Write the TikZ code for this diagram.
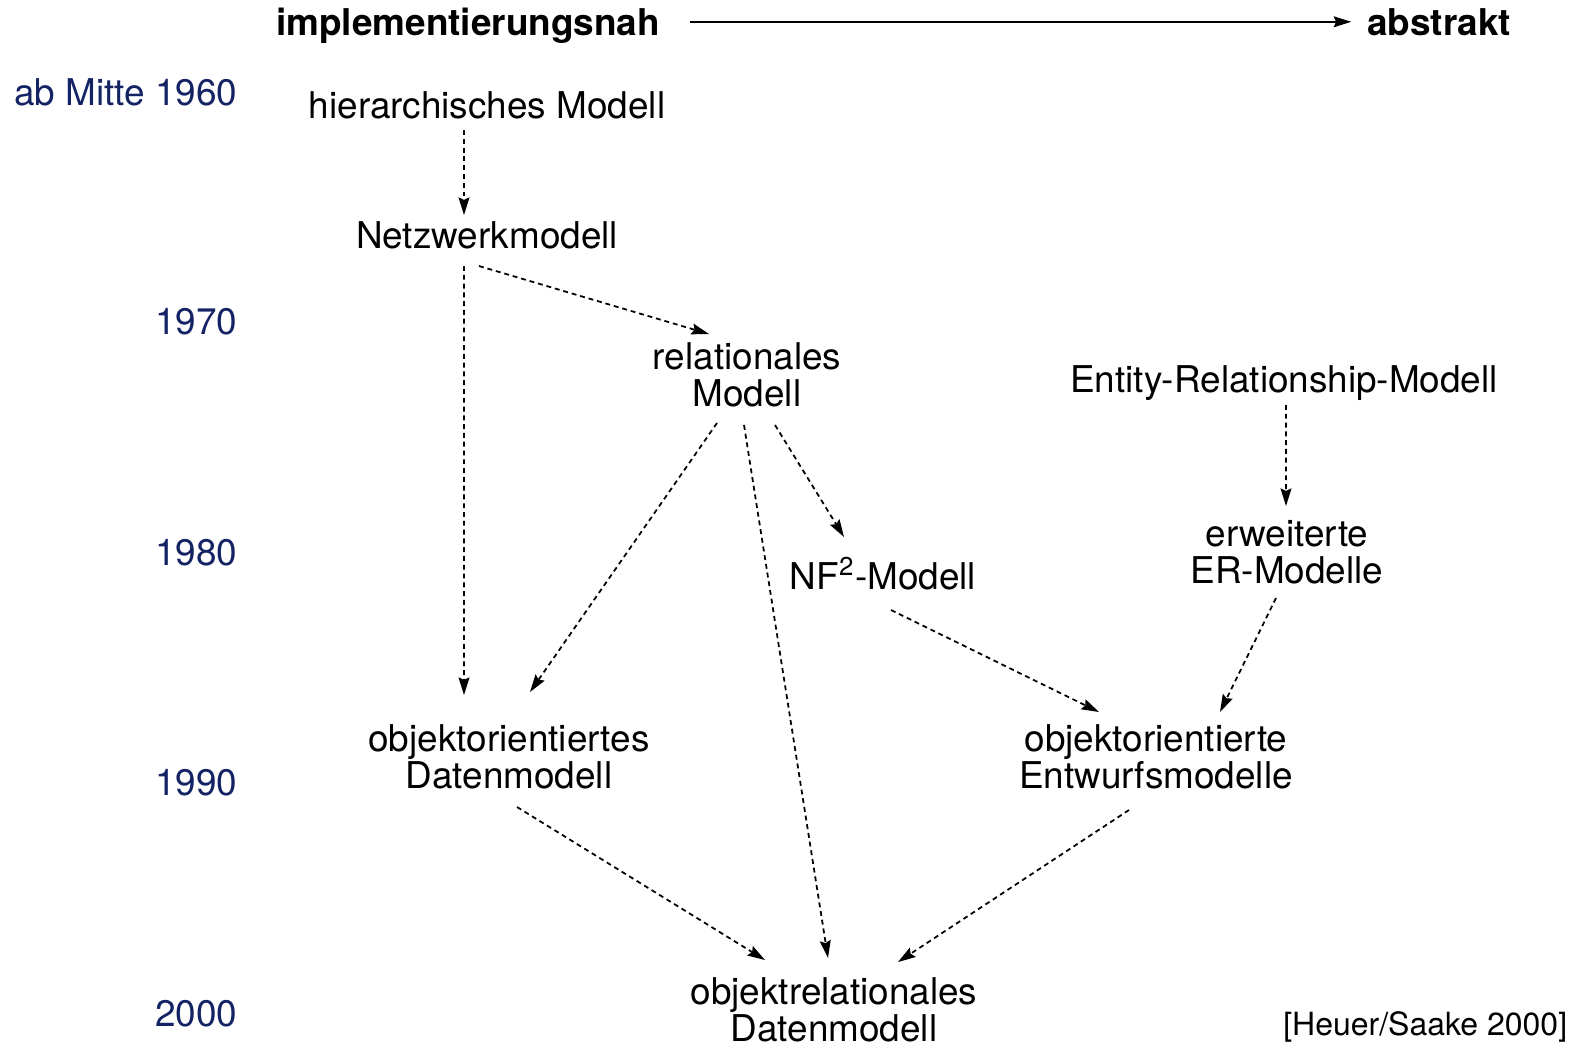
\documentclass[tikz,border=0pt]{standalone}
\usepackage{fontspec}
\setmainfont{TeX Gyre Heros}
\usetikzlibrary{arrows.meta}
\definecolor{yearblue}{RGB}{20,35,100}

\begin{document}
\begin{tikzpicture}[line width=0.5pt, font=\fontsize{10.5}{10.4}\selectfont,
  every node/.style={inner sep=0pt, align=center},
  year/.style={anchor=east, text=yearblue},
  axislabel/.style={anchor=base, font=\fontsize{10.5}{10.4}\selectfont\bfseries},
  tip/.style={-{Stealth[length=5pt, width=3.1pt, inset=0.7pt]}},
  link/.style={tip, dash pattern=on 1.4pt off 1.1pt}]
\useasboundingbox (0,0) rectangle (15.88,-10.44);

\node [axislabel] (impl) at (4.68,-0.355) {implementierungsnah};
\node [axislabel] (abst) at (14.39,-0.355) {abstrakt};
\coordinate (axstart) at ([shift={(0.29,0.04)}]impl.east);
\draw [tip] (axstart) -- ([xshift=-0.15cm]abst.west |- axstart);

\node [year] (y60) at (2.38,-0.92) {ab Mitte 1960};
\node [year] (y70) at (2.38,-3.22) {1970};
\node [year] (y80) at (2.38,-5.53) {1980};
\node [year] (y90) at (2.38,-7.83) {1990};
\node [year] (y00) at (2.38,-10.14) {2000};

\node (hier) at (4.87,-1.05) {hierarchisches Modell};
\node (netz) at (4.87,-2.35) {Netzwerkmodell};
\node (rel) at (7.47,-3.75) {relationales\\Modell};
\node (er) at (12.84,-3.83) {Entity-Relationship-Modell};
\node (nf) at (8.83,-5.74) {NF\textsuperscript{2}-Modell};
\node (erw) at (12.87,-5.52) {erweiterte\\ER-Modelle};
\node (oo) at (5.09,-7.57) {objektorientiertes\\Datenmodell};
\node (oe) at (11.56,-7.57) {objektorientierte\\Entwurfsmodelle};
\node (ors) at (8.34,-10.10) {objektrelationales\\Datenmodell};
\node [anchor=east, font=\fontsize{9.1}{10}\selectfont] (cite) at (15.68,-10.27) {[Heuer/Saake 2000]};

\draw [link] ([shift={(-0.23,-0.25)}]hier.center) -- ([shift={(-0.23,0.20)}]netz.center);
\draw [link] ([shift={(-0.23,-0.31)}]netz.center) -- ([shift={(-0.45,0.62)}]oo.center);
\draw [link] ([shift={(-0.08,-0.31)}]netz.center) -- ([shift={(-0.38,0.41)}]rel.center);
\draw [link] ([shift={(-0.30,-0.48)}]rel.center) -- ([shift={(0.21,0.65)}]oo.center);
\draw [link] ([shift={(-0.03,-0.50)}]rel.center) -- ([shift={(-0.06,0.52)}]ors.center);
\draw [link] ([shift={(0.28,-0.50)}]rel.center) -- ([shift={(-0.39,0.37)}]nf.center);
\draw [link] ([shift={(0.02,-0.22)}]er.center) -- ([shift={(-0.01,0.46)}]erw.center);
\draw [link] ([shift={(0.08,-0.36)}]nf.center) -- ([shift={(-0.57,0.45)}]oe.center);
\draw [link] ([shift={(-0.11,-0.46)}]erw.center) -- ([shift={(0.64,0.45)}]oe.center);
\draw [link] ([shift={(0.08,-0.50)}]oo.center) -- ([shift={(-0.69,0.50)}]ors.center);
\draw [link] ([shift={(-0.27,-0.53)}]oe.center) -- ([shift={(0.64,0.48)}]ors.center);
\end{tikzpicture}
\end{document}
